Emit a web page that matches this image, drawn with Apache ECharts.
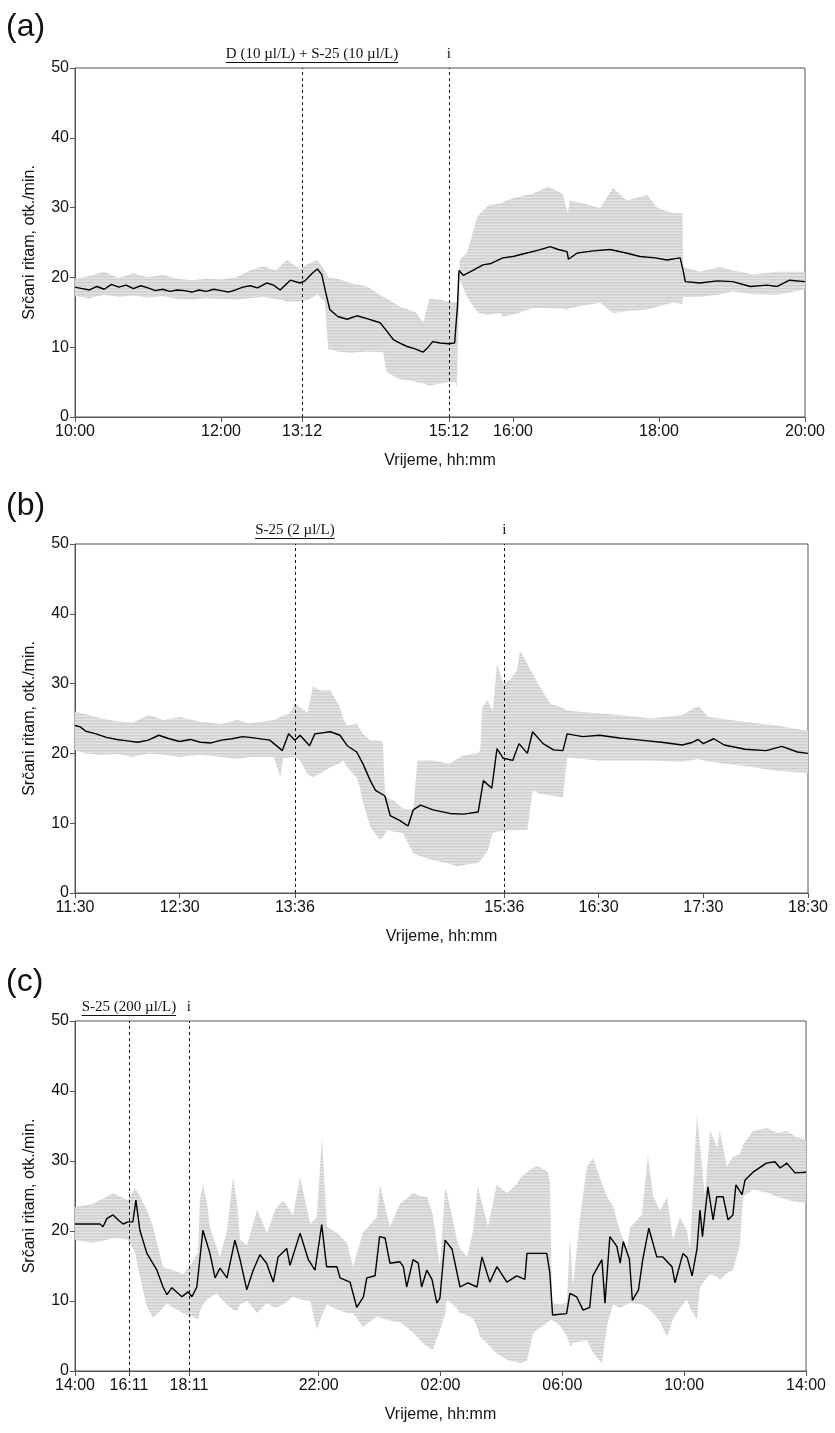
<!DOCTYPE html>
<html>
<head>
<meta charset="utf-8">
<script src="https://cdn.jsdelivr.net/npm/echarts@6/dist/echarts.min.js"></script>
<style>
  html, body { margin: 0; padding: 0; background: #fff; }
  #chart { width: 835px; height: 1433px; }
</style>
</head>
<body>
<div id="chart"></div>
<script>
// ---------- Panel (a): hours after 10:00 ----------
const aTickValues = [0, 2, 3.11, 5.12, 6, 8, 10];
const aTickLabels = ['10:00', '12:00', '13:12', '15:12', '16:00', '18:00', '20:00'];
const aEvents = [3.11, 5.12];
const aNote = 'D (10 µl/L) + S-25 (10 µl/L)';
const aMeanTime = [0,0.1,0.2,0.3,0.4,0.5,0.6,0.7,0.8,0.9,1.0,1.1,1.2,1.3,1.4,1.5,1.6,1.7,1.8,1.9,2.0,2.1,2.2,2.3,2.4,2.5,
  2.63,2.72,2.81,2.95,3.08,3.15,3.25,3.32,3.38,3.44,3.49,
  3.6,3.73,3.86,4.0,4.18,4.28,4.36,4.45,4.55,4.65,4.77,4.82,4.9,5.0,5.12,5.2,5.24,5.26,5.32,
  5.45,5.59,5.7,5.86,6.0,6.19,6.35,6.51,6.62,6.74,6.76,6.88,7.1,7.33,7.55,7.74,7.95,8.11,8.29,8.33,8.36,8.56,8.8,9.01,9.25,9.48,9.62,9.79,10.0];
const aMean = [18.6,18.4,18.2,18.7,18.3,19.0,18.6,18.9,18.4,18.8,18.5,18.1,18.3,18.0,18.2,18.1,17.9,18.2,18.0,18.3,18.1,17.9,18.2,18.6,18.8,18.5,
  19.2,18.9,18.2,19.6,19.2,19.5,20.6,21.2,20.4,17.6,15.4,
  14.4,14.0,14.5,14.1,13.5,12.2,11.1,10.6,10.1,9.8,9.3,9.8,10.8,10.6,10.5,10.6,16.0,21.0,20.3,
  21.0,21.8,22.0,22.8,23.0,23.5,23.9,24.4,24.0,23.7,22.6,23.5,23.8,24.0,23.5,23.0,22.8,22.5,22.8,21.0,19.4,19.2,19.5,19.4,18.7,18.9,18.7,19.6,19.4];
const aBandTime = [0,0.2,0.4,0.6,0.8,1.0,1.2,1.4,1.6,1.8,2.0,2.2,2.4,
  2.58,2.75,2.9,3.08,3.2,3.32,3.42,3.47,3.6,3.77,4.0,4.22,4.27,4.45,4.6,4.68,4.77,4.86,5.0,5.12,5.21,5.23,5.27,
  5.37,5.51,5.66,5.82,5.86,6.05,6.27,6.48,6.68,6.75,6.78,7.0,7.19,7.37,7.56,7.84,7.97,8.19,8.32,8.33,8.56,8.84,9.01,9.29,9.62,9.97,10.0];
const aBandLow = [17.3,17.0,17.5,17.2,17.4,17.1,17.3,16.9,16.8,17.0,16.9,16.8,17.0,
  17.2,16.9,16.6,16.5,16.8,17.6,16.5,9.7,9.4,9.2,9.4,9.3,6.4,5.4,5.2,5.0,4.8,4.5,4.8,5.0,5.0,4.2,19.7,
  17.2,15.0,14.6,14.9,14.4,14.8,15.6,15.6,15.5,15.4,15.6,16.0,16.4,14.9,15.2,15.4,15.8,16.4,16.2,17.2,17.2,17.6,18.0,17.6,17.5,18.2,18.2];
const aBandHigh = [19.8,20.2,20.8,19.9,20.6,20.0,20.4,19.8,19.6,19.8,19.7,20.0,21.0,
  21.6,21.0,22.5,21.2,22.0,22.5,21.0,20.0,19.8,19.2,18.7,17.2,17.0,15.8,15.3,14.9,13.5,17.0,16.8,16.5,16.4,16.4,22.5,
  23.5,28.7,30.3,30.6,30.8,31.5,32.0,33.0,32.0,29.2,31.0,30.5,29.9,32.8,31.0,31.8,30.0,29.2,29.2,21.5,20.8,21.5,21.0,20.4,20.8,20.8,20.8];

// ---------- Panel (b): hours after 11:30 ----------
const bTickValues = [0, 1, 2.1, 4.1, 5, 6, 7];
const bTickLabels = ['11:30', '12:30', '13:36', '15:36', '16:30', '17:30', '18:30'];
const bEvents = [2.1, 4.1];
const bNote = 'S-25 (2 µl/L)';
const bMeanTime = [0,0.05,0.1,0.2,0.3,0.4,0.5,0.6,0.7,0.8,0.9,1.0,1.1,1.2,1.3,1.4,1.5,1.6,
  1.67,1.86,1.98,2.04,2.1,2.15,2.24,2.29,2.44,2.53,2.6,2.69,2.75,2.82,2.87,2.96,3.01,3.1,3.18,3.23,3.3,3.42,3.58,3.71,3.85,3.9,3.98,4.03,4.09,4.18,4.24,4.32,4.37,4.47,4.57,4.66,4.7,4.85,5.01,
  5.2,5.4,5.6,5.8,5.9,5.95,6.0,6.1,6.2,6.4,6.6,6.75,6.9,7.0];
const bMean = [24.0,23.8,23.2,22.8,22.3,22.0,21.8,21.6,21.9,22.6,22.1,21.7,22.0,21.6,21.5,21.9,22.1,22.4,
  22.3,21.9,20.4,22.8,21.9,22.6,21.1,22.8,23.1,22.6,21.1,20.2,18.5,16.1,14.7,13.9,11.1,10.4,9.6,11.9,12.6,11.9,11.4,11.3,11.6,16.1,15.0,20.7,19.3,19.0,21.4,20.0,23.1,21.4,20.5,20.4,22.8,22.4,22.6,
  22.2,21.9,21.6,21.2,21.6,22.0,21.4,22.1,21.2,20.6,20.4,21.0,20.2,20.0];
const bBandTime = [0,0.1,0.25,0.4,0.55,0.7,0.85,1.0,1.2,1.4,1.55,1.67,1.9,1.96,1.99,2.05,2.1,2.15,2.22,2.27,
  2.35,2.44,2.53,2.56,2.6,2.69,2.72,2.75,2.82,2.91,2.94,2.96,2.98,3.04,3.13,3.23,3.27,3.42,3.58,3.65,
  3.71,3.84,3.87,3.89,3.94,3.99,4.03,4.09,4.15,4.22,4.25,4.32,4.37,4.44,4.54,4.66,4.7,5.01,5.2,5.5,5.8,5.95,6.05,6.4,6.7,7.0];
const bBandLow = [20.5,20.0,19.8,19.9,19.5,20.0,19.8,19.5,19.8,19.5,19.2,19.5,19.5,16.6,19.3,19.4,19.5,19.0,17.0,16.6,
  17.2,18.0,18.6,19.0,18.0,16.5,15.2,13.0,9.5,7.6,8.0,8.5,9.0,8.8,8.6,5.7,5.4,4.7,4.2,3.8,
  4.0,4.3,4.6,5.0,6.0,8.6,8.8,8.9,9.0,9.0,9.0,9.0,14.7,14.2,14.0,13.7,19.4,19.0,19.0,19.0,18.8,19.2,18.8,18.2,17.5,17.2];
const bBandHigh = [26.0,25.6,25.0,24.6,24.4,25.5,24.8,25.2,24.5,24.2,24.8,24.3,24.8,25.2,25.4,25.7,27.2,26.6,25.8,29.5,
  29.0,29.0,26.6,25.0,24.0,24.3,23.5,22.8,21.9,21.8,21.6,14.0,13.6,13.3,12.1,11.9,19.0,19.0,18.5,19.2,
  19.7,20.0,20.4,26.6,27.6,26.1,32.8,30.0,30.5,31.9,34.7,32.8,31.4,29.5,27.1,26.5,26.1,25.7,25.5,25.0,25.5,26.8,25.2,24.5,24.0,23.2];

// ---------- Panel (c): hours after 14:00 ----------
const cTickValues = [0, 1.77, 3.74, 8, 12, 16, 20, 24];
const cTickLabels = ['14:00', '16:11', '18:11', '22:00', '02:00', '06:00', '10:00', '14:00'];
const cEvents = [1.77, 3.74];
const cNote = 'S-25 (200 µl/L)';
const cMeanTime = [0,0.39,0.82,0.92,1.05,1.25,1.41,1.58,1.74,1.9,2.0,2.13,2.36,2.69,2.89,3.02,3.18,3.51,3.71,3.84,
  4.0,4.2,4.43,4.6,4.76,4.99,5.25,5.42,5.64,5.85,6.07,6.29,6.51,6.67,6.95,7.06,7.39,7.66,7.88,8.1,
  8.26,8.6,8.7,9.03,9.25,9.47,9.58,9.85,10.0,10.18,10.34,10.67,10.78,10.89,11.1,11.27,11.38,11.55,11.72,11.88,
  11.98,12.15,12.38,12.64,12.9,13.2,13.36,13.62,13.85,14.18,14.5,14.77,14.84,15.16,15.49,15.59,15.68,16.14,16.25,16.47,
  16.68,16.9,17.0,17.3,17.4,17.56,17.79,17.9,18.0,18.2,18.3,18.5,18.64,18.84,19.1,19.3,19.6,19.7,19.96,20.1,
  20.26,20.42,20.52,20.6,20.78,20.95,21.07,21.28,21.44,21.6,21.7,21.9,22.0,22.26,22.7,22.98,23.15,23.37,23.64,24.0];
const cMean = [21.0,21.0,21.0,20.6,21.8,22.3,21.6,21.0,21.3,21.3,24.4,20.1,16.8,14.4,12.0,10.9,11.9,10.6,11.3,10.6,
  12.0,20.1,16.8,13.3,14.7,13.3,18.7,15.9,11.6,14.4,16.6,15.4,12.7,16.3,17.5,15.1,19.7,15.9,14.4,20.9,
  14.9,14.9,13.3,12.7,9.1,10.6,13.3,13.6,19.2,19.0,15.4,15.6,14.9,12.0,15.9,15.4,12.0,14.4,13.1,9.7,
  10.4,18.7,17.4,12.0,12.6,12.0,16.3,12.7,14.9,12.7,13.6,13.1,16.8,16.8,16.8,14.0,8.0,8.2,11.1,10.6,
  8.7,9.1,13.6,15.9,9.7,19.2,17.8,15.4,18.5,16.0,10.1,11.6,15.9,20.4,16.3,16.3,14.9,12.6,16.8,16.2,
  13.6,17.4,23.0,19.2,26.3,21.6,24.9,24.9,21.6,22.3,26.6,25.2,27.3,28.4,29.7,29.9,29.0,29.7,28.3,28.4];
const cBandTime = [0,0.59,1.25,1.74,1.97,2.13,2.36,2.56,2.89,3.02,3.22,3.35,3.55,3.78,4.04,4.1,4.2,4.33,4.43,4.66,
  4.76,4.99,5.19,5.32,5.42,5.65,5.98,6.3,6.57,6.83,7.16,7.39,7.72,7.94,8.11,8.27,8.6,8.93,9.13,9.45,
  9.91,10.01,10.34,10.67,10.99,11.1,11.33,11.56,11.75,11.98,12.15,12.21,12.54,12.64,12.87,13.07,13.23,13.3,13.56,13.72,
  13.85,14.18,14.51,14.61,14.84,15.04,15.2,15.53,15.59,15.66,15.92,16.15,16.25,16.35,16.58,16.81,17.01,17.3,17.47,17.66,
  17.89,18.12,18.22,18.61,18.81,18.98,19.21,19.44,19.63,19.86,20.09,20.19,20.42,20.52,20.68,20.85,21.08,21.17,21.4,21.6,
  21.83,21.93,22.26,22.72,23.05,23.37,23.64,23.97,24.0];
const cBandLow = [18.7,18.3,19.0,18.8,17.0,13.5,9.2,7.6,9.0,9.7,9.0,8.8,8.2,7.9,7.4,8.5,9.5,10.2,10.5,11.1,
  10.5,9.5,8.8,8.6,9.5,10.0,8.3,9.7,9.0,9.5,10.6,10.2,10.0,5.9,8.0,9.5,8.8,8.3,8.3,6.3,
  7.8,7.6,7.2,7.0,5.9,5.5,4.4,3.5,3.0,5.9,8.0,10.2,9.0,8.3,8.0,7.5,6.0,4.9,3.8,3.0,
  2.5,1.6,1.3,1.1,1.5,5.4,6.0,7.0,7.3,7.3,6.5,5.0,3.5,4.0,4.2,4.4,2.6,1.1,6.5,9.5,
  9.0,9.5,9.7,9.5,9.0,8.3,7.0,4.9,7.4,9.0,10.2,9.0,7.4,12.0,13.0,13.8,13.5,13.0,14.0,14.4,
  18.0,24.9,25.9,25.5,24.9,24.5,24.2,24.0,24.0];
const cBandHigh = [23.4,23.9,25.4,24.4,26.1,25.0,23.0,20.6,14.9,14.6,14.4,14.2,13.8,15.0,17.0,24.4,26.6,24.0,20.6,17.5,
  16.3,20.0,27.7,24.0,18.7,18.0,23.0,19.7,23.0,24.4,22.3,27.7,21.0,22.0,33.3,20.6,19.7,18.3,14.9,19.7,
  22.0,26.6,20.6,23.9,25.0,25.4,25.0,24.9,22.3,14.9,26.1,25.5,18.7,17.5,16.3,20.0,26.6,25.0,20.6,24.0,
  26.6,25.4,26.7,27.5,28.4,29.0,29.3,28.4,27.0,9.7,9.5,9.8,19.2,12.0,22.0,29.2,30.4,26.7,24.9,23.6,
  20.0,17.5,20.5,22.3,30.8,25.0,22.9,24.9,18.7,22.0,20.0,17.5,36.6,32.3,25.0,34.4,31.9,34.3,29.2,30.6,
  31.0,32.3,34.3,34.7,34.0,34.3,33.5,33.1,33.1];

// ---------- layout & styling ----------
const SANS = '"Liberation Sans", Arial, sans-serif';
const SERIF = '"Liberation Serif", "Times New Roman", serif';
const AXIS_COLOR = '#555';
const TEXT_COLOR = '#111';

// fine horizontal hatching used for the min–max envelope
function hatchPattern() {
  const c = document.createElement('canvas');
  c.width = 4; c.height = 3;
  const g = c.getContext('2d');
  g.fillStyle = '#cfcfcf'; g.fillRect(0, 0, 4, 1);
  g.fillStyle = '#d9d9d9'; g.fillRect(0, 1, 4, 1);
  g.fillStyle = '#e3e3e3'; g.fillRect(0, 2, 4, 1);
  return { image: c, repeat: 'repeat' };
}
const BAND_FILL = hatchPattern();

const panels = [
  { title: '(a)', titleLift: 41, grid: { left: 75, top: 68, width: 730, height: 349 }, max: 10,
    ticks: aTickValues, labels: aTickLabels, events: aEvents, note: aNote, noteShift: 10,
    mt: aMeanTime, mv: aMean, bt: aBandTime, lo: aBandLow, hi: aBandHigh },
  { title: '(b)', titleLift: 38, grid: { left: 75, top: 544, width: 733, height: 349 }, max: 7,
    ticks: bTickValues, labels: bTickLabels, events: bEvents, note: bNote, noteShift: 0,
    mt: bMeanTime, mv: bMean, bt: bBandTime, lo: bBandLow, hi: bBandHigh },
  { title: '(c)', titleLift: 39, grid: { left: 75, top: 1021, width: 731, height: 350 }, max: 24,
    ticks: cTickValues, labels: cTickLabels, events: cEvents, note: cNote, noteShift: 0,
    mt: cMeanTime, mv: cMean, bt: cBandTime, lo: cBandLow, hi: cBandHigh }
];

function pairs(t, v) {
  const n = Math.min(t.length, v.length);
  const out = [];
  for (let i = 0; i < n; i++) out.push([t[i], v[i]]);
  return out;
}
function tickLabel(p) {
  return function (v) {
    const k = p.ticks.findIndex(function (t) { return Math.abs(t - v) < 1e-6; });
    return k >= 0 ? p.labels[k] : '';
  };
}
// min–max envelope drawn as one polygon through the axis scales
function bandRenderer(p) {
  return function (params, api) {
    if (params.dataIndex !== 0) return null;
    const n = Math.min(p.bt.length, p.lo.length, p.hi.length);
    const pts = [];
    for (let k = 0; k < n; k++) pts.push(api.coord([p.bt[k], p.hi[k]]));
    for (let k = n - 1; k >= 0; k--) pts.push(api.coord([p.bt[k], p.lo[k]]));
    return { type: 'polygon', shape: { points: pts }, style: { fill: BAND_FILL, stroke: null } };
  };
}

const chart = echarts.init(document.getElementById('chart'), null, { renderer: 'canvas' });

const series = [];
panels.forEach(function (p, i) {
  series.push({
    type: 'custom', xAxisIndex: i, yAxisIndex: i, silent: true, z: 1, clip: true,
    data: pairs(p.bt, p.lo),
    renderItem: bandRenderer(p)
  });
  // mean heart rate with treatment markers
  series.push({
    type: 'line', xAxisIndex: i, yAxisIndex: i,
    data: pairs(p.mt, p.mv), symbol: 'none', z: 3,
    lineStyle: { color: '#000', width: 1.4 },
    markLine: {
      silent: true, symbol: ['none', 'none'], label: { show: false },
      lineStyle: { type: [3, 3], color: '#111', width: 1 },
      data: p.events.map(function (e) { return { xAxis: e }; })
    }
  });
});

const option = {
  animation: false,
  backgroundColor: '#fff',
  grid: panels.map(function (p) {
    return Object.assign({ show: true, borderColor: AXIS_COLOR, borderWidth: 1, backgroundColor: 'transparent' }, p.grid);
  }),
  xAxis: panels.map(function (p, i) {
    return {
      type: 'value', gridIndex: i, min: 0, max: p.max,
      name: 'Vrijeme, hh:mm', nameLocation: 'middle', nameGap: 36,
      nameTextStyle: { fontFamily: SANS, fontSize: 16, color: TEXT_COLOR },
      axisLine: { show: true, lineStyle: { color: AXIS_COLOR, width: 1 } },
      axisTick: { show: true, customValues: p.ticks, length: 5, lineStyle: { color: AXIS_COLOR } },
      axisLabel: { customValues: p.ticks, formatter: tickLabel(p), fontFamily: SANS, fontSize: 16, color: TEXT_COLOR, margin: 7 },
      splitLine: { show: false }
    };
  }),
  yAxis: panels.map(function (p, i) {
    return {
      type: 'value', gridIndex: i, min: 0, max: 50, interval: 10,
      name: 'Srčani ritam, otk./min.', nameLocation: 'middle', nameGap: 37, nameRotate: 90,
      nameTextStyle: { fontFamily: SANS, fontSize: 16, color: TEXT_COLOR },
      axisLine: { show: true, lineStyle: { color: AXIS_COLOR, width: 1 } },
      axisTick: { show: true, length: 5, lineStyle: { color: AXIS_COLOR } },
      axisLabel: { fontFamily: SANS, fontSize: 16, color: TEXT_COLOR, margin: 6 },
      splitLine: { show: false }
    };
  }),
  series: series
};

chart.setOption(option);

// Panel letters, treatment notes (underlined) and rinse markers above each plot
const measure = document.createElement('canvas').getContext('2d');
const NOTE_FONT = '15px ' + SERIF;
measure.font = NOTE_FONT;
const graphics = [];
panels.forEach(function (p, i) {
  const top = chart.convertToPixel({ yAxisIndex: i }, 50);
  const x1 = chart.convertToPixel({ xAxisIndex: i }, p.events[0]);
  const x2 = chart.convertToPixel({ xAxisIndex: i }, p.events[1]);
  const cx = x1 + p.noteShift;
  const w = measure.measureText(p.note).width;
  graphics.push({
    type: 'text', x: 6, y: top - p.titleLift,
    style: { text: p.title, font: '32px ' + SANS, fill: TEXT_COLOR,
      align: 'left', verticalAlign: 'middle', textAlign: 'left', textVerticalAlign: 'middle' }
  });
  graphics.push({
    type: 'text', x: cx, y: top - 14,
    style: { text: p.note, font: NOTE_FONT, fill: TEXT_COLOR,
      align: 'center', verticalAlign: 'middle', textAlign: 'center', textVerticalAlign: 'middle' }
  });
  graphics.push({
    type: 'line', shape: { x1: cx - w / 2, y1: top - 5.5, x2: cx + w / 2, y2: top - 5.5 },
    style: { stroke: TEXT_COLOR, lineWidth: 1 }
  });
  graphics.push({
    type: 'text', x: x2, y: top - 14,
    style: { text: 'i', font: NOTE_FONT, fill: TEXT_COLOR,
      align: 'center', verticalAlign: 'middle', textAlign: 'center', textVerticalAlign: 'middle' }
  });
});
chart.setOption({ graphic: graphics });
</script>
</body>
</html>
